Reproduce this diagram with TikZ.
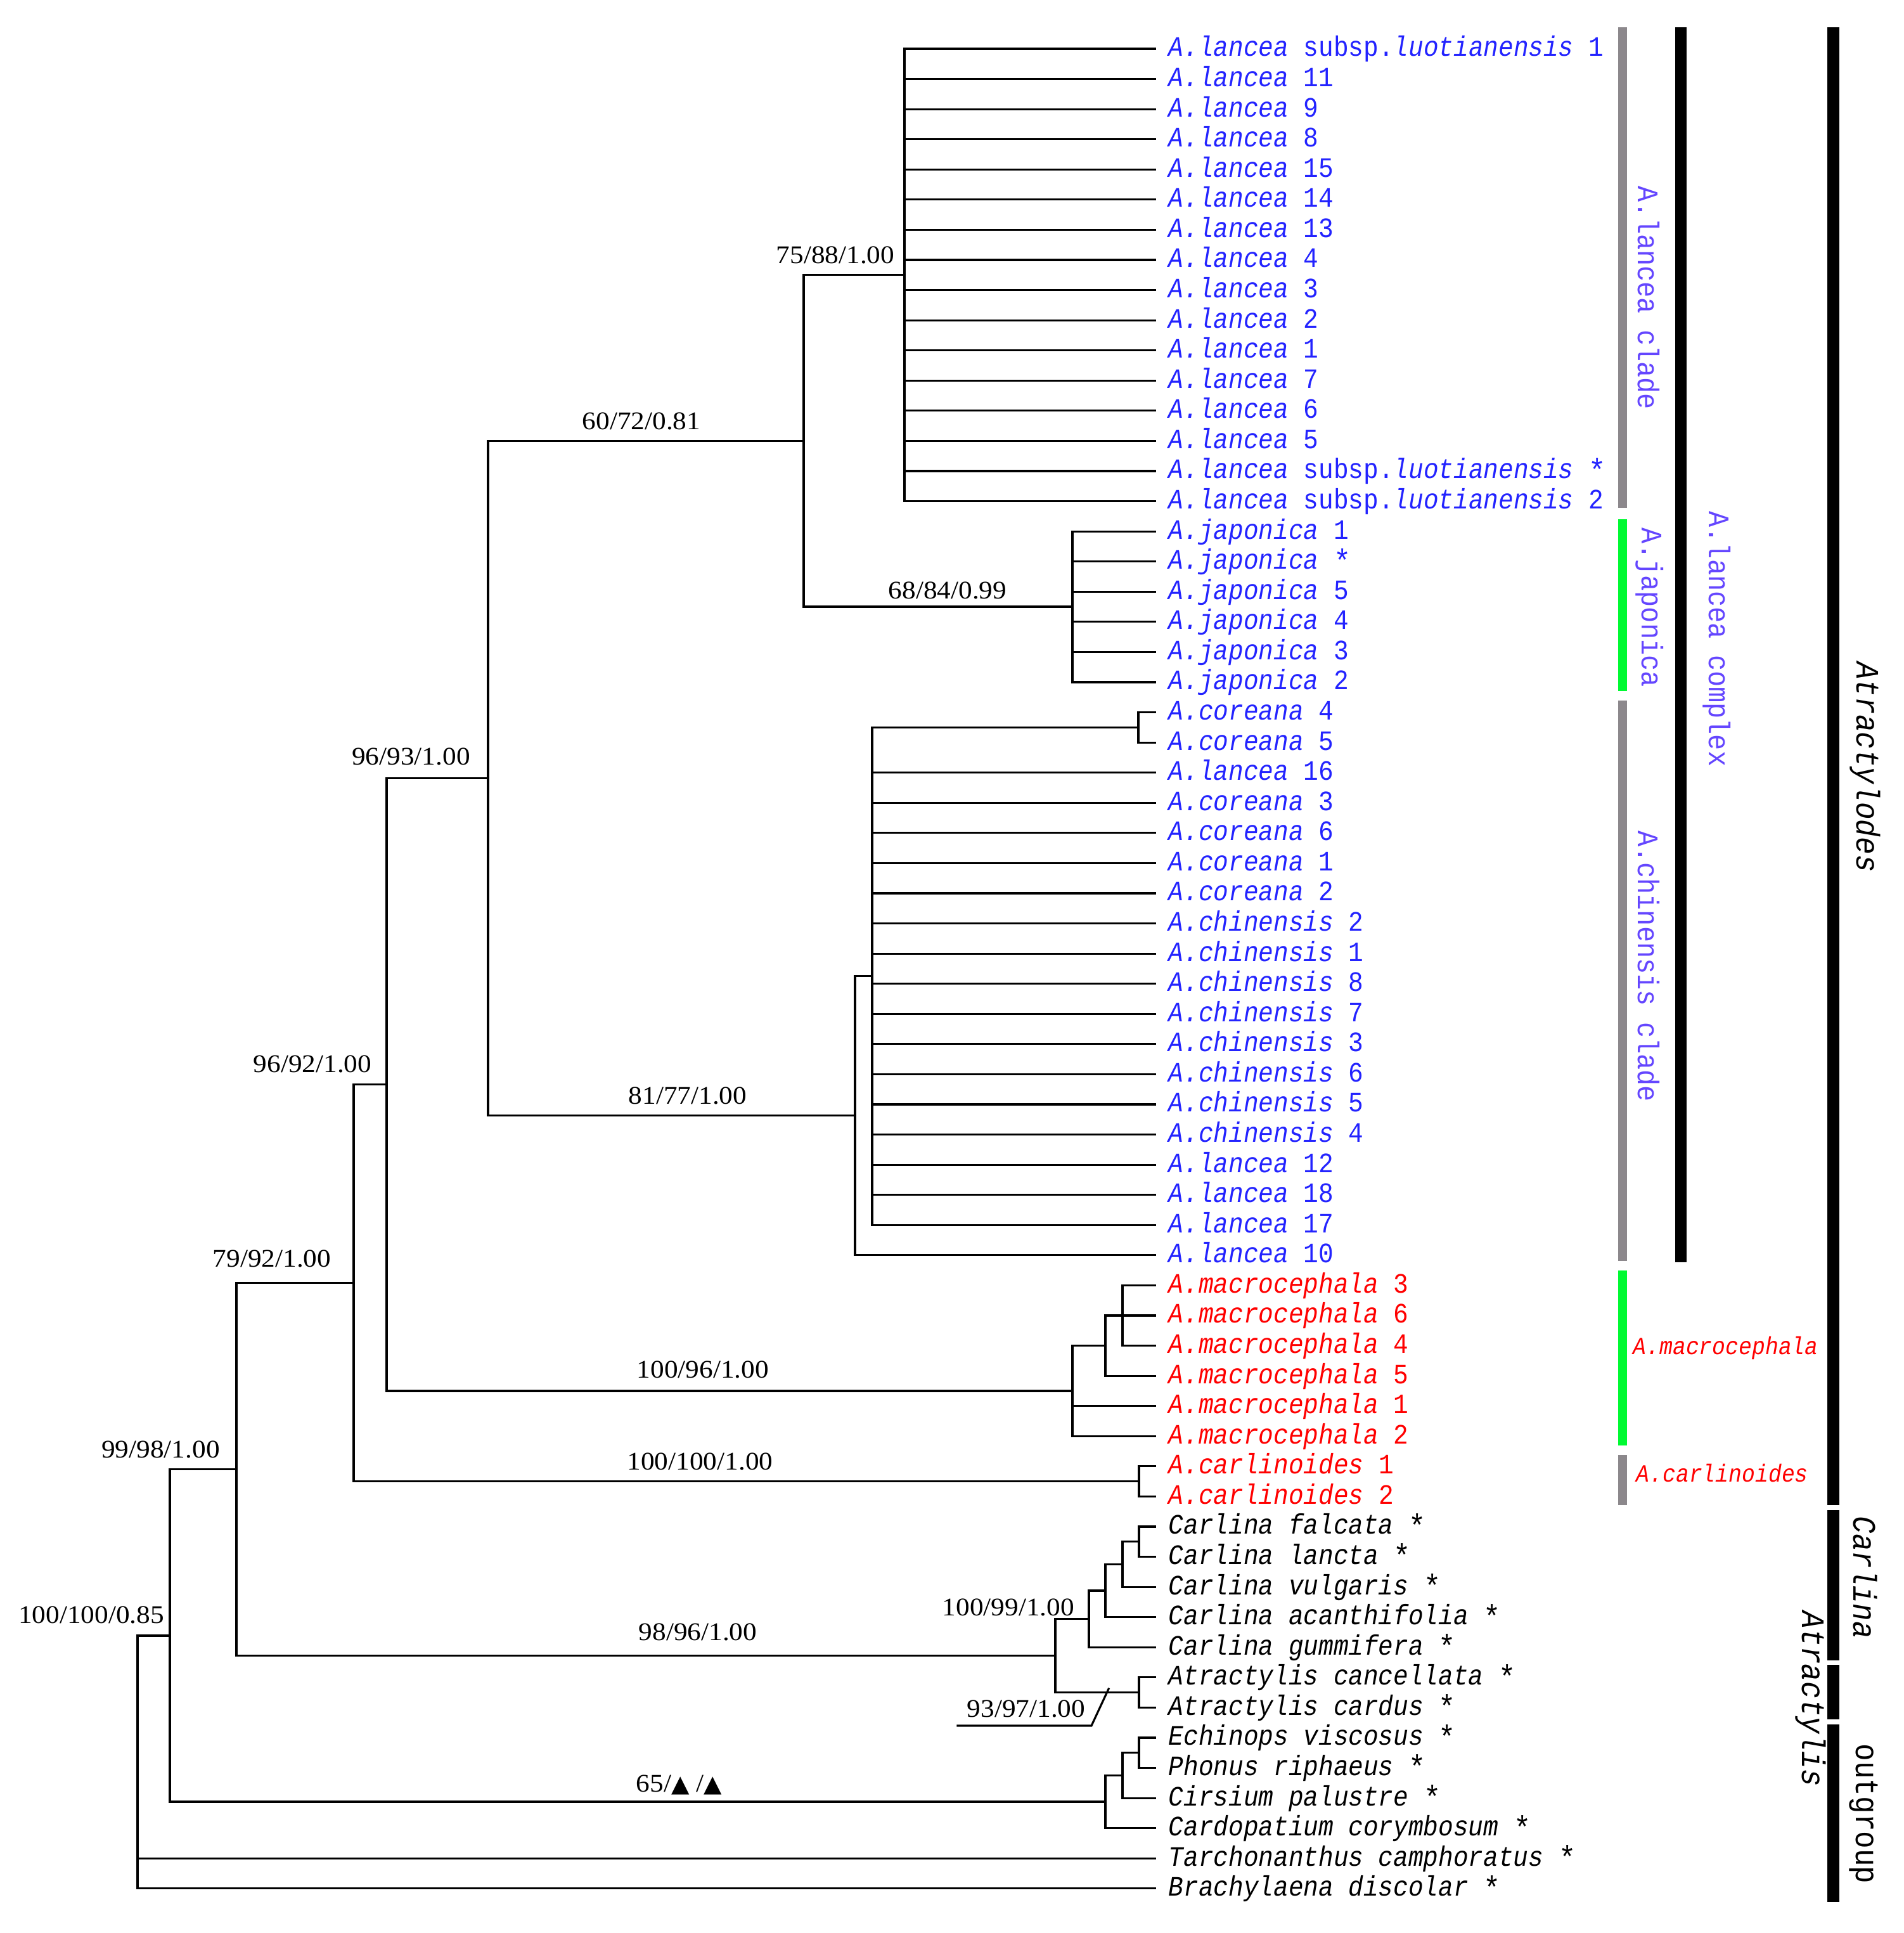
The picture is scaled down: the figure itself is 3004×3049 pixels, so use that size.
\documentclass[tikz,border=0pt]{standalone}
\usepackage{fontspec}
\setmainfont{Liberation Serif}
\newfontfamily\supf{Liberation Serif}[FakeStretch=1.08]
\newfontfamily\leaff{Liberation Mono}[FakeStretch=0.89]
\newfontfamily\symf{DejaVu Sans}
\definecolor{leafblue}{RGB}{35,35,255}
\definecolor{cladeblue}{RGB}{100,70,255}
\definecolor{leafred}{RGB}{255,0,0}
\definecolor{bargreen}{RGB}{0,250,50}
\definecolor{bargray}{RGB}{140,136,140}
\newcommand\tri{{\symf\fontsize{10.5}{11}\selectfont ▲}}
\newcommand\astk{\smash{\raisebox{-0.1em}{\fontsize{14.5}{14}\selectfont *}}}
\newcommand\leaf[3]{%
  \path (1822,{77+47.57*#1}) coordinate (t#1);
  \node[leaflbl,text=#2] (n#1) at (1843,{89+47.57*#1}) {#3};}
\tikzset{
  br/.style={line width=0.9pt, line join=miter, line cap=rect},
  leaflbl/.style={anchor=base west, inner sep=0pt, font=\leaff\fontsize{12.6}{14}\selectfont},
  suplbl/.style={anchor=base, inner sep=0pt, font=\supf\fontsize{11.4}{13}\selectfont},
  vlbl/.style={rotate=-90, inner sep=0pt, font=\leaff\fontsize{13.4}{15}\selectfont, text=cladeblue},
  glbl/.style={rotate=-90, inner sep=0pt, font=\leaff\fontsize{14.7}{16}\selectfont},
  hlbl/.style={anchor=west, inner sep=0pt, font=\leaff\fontsize{11.1}{13}\selectfont, text=leafred},
  graybar/.style={fill=bargray, draw=none},
  greenbar/.style={fill=bargreen, draw=none},
  blackbar/.style={fill=black, draw=none}
}
\begin{document}
\begin{tikzpicture}[x=0.01cm, y=-0.01cm]
\useasboundingbox (0,0) rectangle (3004,3049);

% ---------- leaves ----------
\leaf{0}{leafblue}{\textit{A.lancea} subsp.\textit{luotianensis} 1}
\leaf{1}{leafblue}{\textit{A.lancea} 11}
\leaf{2}{leafblue}{\textit{A.lancea} 9}
\leaf{3}{leafblue}{\textit{A.lancea} 8}
\leaf{4}{leafblue}{\textit{A.lancea} 15}
\leaf{5}{leafblue}{\textit{A.lancea} 14}
\leaf{6}{leafblue}{\textit{A.lancea} 13}
\leaf{7}{leafblue}{\textit{A.lancea} 4}
\leaf{8}{leafblue}{\textit{A.lancea} 3}
\leaf{9}{leafblue}{\textit{A.lancea} 2}
\leaf{10}{leafblue}{\textit{A.lancea} 1}
\leaf{11}{leafblue}{\textit{A.lancea} 7}
\leaf{12}{leafblue}{\textit{A.lancea} 6}
\leaf{13}{leafblue}{\textit{A.lancea} 5}
\leaf{14}{leafblue}{\textit{A.lancea} subsp.\textit{luotianensis} \astk}
\leaf{15}{leafblue}{\textit{A.lancea} subsp.\textit{luotianensis} 2}
\leaf{16}{leafblue}{\textit{A.japonica} 1}
\leaf{17}{leafblue}{\textit{A.japonica} \astk}
\leaf{18}{leafblue}{\textit{A.japonica} 5}
\leaf{19}{leafblue}{\textit{A.japonica} 4}
\leaf{20}{leafblue}{\textit{A.japonica} 3}
\leaf{21}{leafblue}{\textit{A.japonica} 2}
\leaf{22}{leafblue}{\textit{A.coreana} 4}
\leaf{23}{leafblue}{\textit{A.coreana} 5}
\leaf{24}{leafblue}{\textit{A.lancea} 16}
\leaf{25}{leafblue}{\textit{A.coreana} 3}
\leaf{26}{leafblue}{\textit{A.coreana} 6}
\leaf{27}{leafblue}{\textit{A.coreana} 1}
\leaf{28}{leafblue}{\textit{A.coreana} 2}
\leaf{29}{leafblue}{\textit{A.chinensis} 2}
\leaf{30}{leafblue}{\textit{A.chinensis} 1}
\leaf{31}{leafblue}{\textit{A.chinensis} 8}
\leaf{32}{leafblue}{\textit{A.chinensis} 7}
\leaf{33}{leafblue}{\textit{A.chinensis} 3}
\leaf{34}{leafblue}{\textit{A.chinensis} 6}
\leaf{35}{leafblue}{\textit{A.chinensis} 5}
\leaf{36}{leafblue}{\textit{A.chinensis} 4}
\leaf{37}{leafblue}{\textit{A.lancea} 12}
\leaf{38}{leafblue}{\textit{A.lancea} 18}
\leaf{39}{leafblue}{\textit{A.lancea} 17}
\leaf{40}{leafblue}{\textit{A.lancea} 10}
\leaf{41}{leafred}{\textit{A.macrocephala} 3}
\leaf{42}{leafred}{\textit{A.macrocephala} 6}
\leaf{43}{leafred}{\textit{A.macrocephala} 4}
\leaf{44}{leafred}{\textit{A.macrocephala} 5}
\leaf{45}{leafred}{\textit{A.macrocephala} 1}
\leaf{46}{leafred}{\textit{A.macrocephala} 2}
\leaf{47}{leafred}{\textit{A.carlinoides} 1}
\leaf{48}{leafred}{\textit{A.carlinoides} 2}
\leaf{49}{black}{\textit{Carlina falcata} \astk}
\leaf{50}{black}{\textit{Carlina lancta} \astk}
\leaf{51}{black}{\textit{Carlina vulgaris} \astk}
\leaf{52}{black}{\textit{Carlina acanthifolia} \astk}
\leaf{53}{black}{\textit{Carlina gummifera} \astk}
\leaf{54}{black}{\textit{Atractylis cancellata} \astk}
\leaf{55}{black}{\textit{Atractylis cardus} \astk}
\leaf{56}{black}{\textit{Echinops viscosus} \astk}
\leaf{57}{black}{\textit{Phonus riphaeus} \astk}
\leaf{58}{black}{\textit{Cirsium palustre} \astk}
\leaf{59}{black}{\textit{Cardopatium corymbosum} \astk}
\leaf{60}{black}{\textit{Tarchonanthus camphoratus} \astk}
\leaf{61}{black}{\textit{Brachylaena discolar} \astk}

% ---------- internal nodes ----------
\coordinate (klan) at (1427,433.8);
\coordinate (kjap) at (1692,957.0);
\coordinate (klj) at (1268,695.4);
\coordinate (kcor) at (1796,1147.3);
\coordinate (kchiin) at (1376,1539.8);
\coordinate (kchi) at (1349,1759.8);
\coordinate (kA) at (770,1227.6);
\coordinate (kmac3) at (1771,2074.9);
\coordinate (kmac2) at (1744,2122.5);
\coordinate (kmac) at (1692,2193.9);
\coordinate (kB) at (610,1710.8);
\coordinate (kcarl) at (1797,2336.6);
\coordinate (kC) at (558,2023.7);
\coordinate (kcf) at (1797,2431.7);
\coordinate (kcv) at (1771,2467.4);
\coordinate (kca) at (1744,2509.0);
\coordinate (kcg) at (1718,2553.6);
\coordinate (katr) at (1797,2669.6);
\coordinate (kca2) at (1665,2611.6);
\coordinate (kD) at (373,2317.7);
\coordinate (kep) at (1797,2764.7);
\coordinate (kepc) at (1771,2800.4);
\coordinate (kout) at (1744,2842.0);
\coordinate (kE) at (268,2579.9);
\coordinate (kroot) at (217,2779);

% ---------- branches ----------
\foreach \i in {0,...,15} \draw[br] (klan) |- (t\i);
\foreach \i in {16,...,21} \draw[br] (kjap) |- (t\i);
\draw[br] (klj) |- (klan) (klj) |- (kjap);
\foreach \i in {22,23} \draw[br] (kcor) |- (t\i);
\draw[br] (kchiin) |- (kcor);
\foreach \i in {24,...,39} \draw[br] (kchiin) |- (t\i);
\draw[br] (kchi) |- (kchiin) (kchi) |- (t40);
\draw[br] (kA) |- (klj) (kA) |- (kchi);
\foreach \i in {41,42,43} \draw[br] (kmac3) |- (t\i);
\draw[br] (kmac2) |- (kmac3) (kmac2) |- (t44);
\draw[br] (kmac) |- (kmac2) (kmac) |- (t45) (kmac) |- (t46);
\draw[br] (kB) |- (kA) (kB) |- (kmac);
\draw[br] (kcarl) |- (t47) (kcarl) |- (t48);
\draw[br] (kC) |- (kB) (kC) |- (kcarl);
\draw[br] (kcf) |- (t49) (kcf) |- (t50);
\draw[br] (kcv) |- (kcf) (kcv) |- (t51);
\draw[br] (kca) |- (kcv) (kca) |- (t52);
\draw[br] (kcg) |- (kca) (kcg) |- (t53);
\draw[br] (katr) |- (t54) (katr) |- (t55);
\draw[br] (kca2) |- (kcg) (kca2) |- (katr);
\draw[br] (kD) |- (kC) (kD) |- (kca2);
\draw[br] (kep) |- (t56) (kep) |- (t57);
\draw[br] (kepc) |- (kep) (kepc) |- (t58);
\draw[br] (kout) |- (kepc) (kout) |- (t59);
\draw[br] (kE) |- (kD) (kE) |- (kout);
\draw[br] (kroot) |- (kE) (kroot) |- (t60) (kroot) |- (t61);

% ---------- support values ----------
\node[suplbl] (s1) at (1318,416) {75/88/1.00};
\node[suplbl] (s2) at (1495,944) {68/84/0.99};
\node[suplbl] (s3) at (1012,677.5) {60/72/0.81};
\node[suplbl] (s4) at (648.5,1206) {96/93/1.00};
\node[suplbl] (s5) at (1085,1741) {81/77/1.00};
\node[suplbl] (s6) at (493,1691) {96/92/1.00};
\node[suplbl] (s7) at (1109,2173.5) {100/96/1.00};
\node[suplbl] (s8) at (429,1998) {79/92/1.00};
\node[suplbl] (s9) at (1104.5,2318) {100/100/1.00};
\node[suplbl] (s10) at (253.5,2299) {99/98/1.00};
\node[suplbl] (s11) at (1591,2548) {100/99/1.00};
\node[suplbl] (s12) at (1101,2587) {98/96/1.00};
\node[suplbl] (s13) at (1619,2708) {93/97/1.00};
\node[suplbl,anchor=base west] (s14) at (1003,2826) {65/\tri\ /\tri};
\node[suplbl] (s15) at (144,2560) {100/100/0.85};
\coordinate (ld1) at (1511,2722);
\coordinate (ld2) at (1722,2722);
\coordinate (ld3) at (1749,2664);
\draw[br] (ld1) -- (ld2) -- (ld3);

% ---------- bars ----------
\fill[graybar] (2553,43) rectangle (2567,801);
\fill[greenbar] (2553,819) rectangle (2567,1090);
\fill[graybar] (2553,1105) rectangle (2567,1989);
\fill[greenbar] (2553,2004) rectangle (2567,2280);
\fill[graybar] (2553,2295) rectangle (2567,2374);
\fill[blackbar] (2643,43) rectangle (2661,1991);
\fill[blackbar] (2883,43) rectangle (2902,2374);
\fill[blackbar] (2883,2382) rectangle (2902,2619);
\fill[blackbar] (2883,2626) rectangle (2902,2712);
\fill[blackbar] (2883,2720) rectangle (2902,3000);

% ---------- clade labels ----------
\node[vlbl] (c1) at (2601,470) {A.lancea clade};
\node[vlbl] (c2) at (2603,958) {A.japonica};
\node[vlbl] (c3) at (2601,1524) {A.chinensis clade};
\node[vlbl] (c4) at (2709,1008) {A.lancea complex};
\node[hlbl] (c5) at (2576,2126) {\textit{A.macrocephala}};
\node[hlbl] (c6) at (2581,2324) {\textit{A.carlinoides}};
\node[glbl] (g1) at (2943,1210) {\textit{Atractylodes}};
\node[glbl] (g2) at (2943,2488) {\textit{Carlina}};
\node[glbl] (g3) at (2857,2680) {\textit{Atractylis}};
\node[glbl] (g4) at (2940,2861) {outgroup};
\end{tikzpicture}
\end{document}
